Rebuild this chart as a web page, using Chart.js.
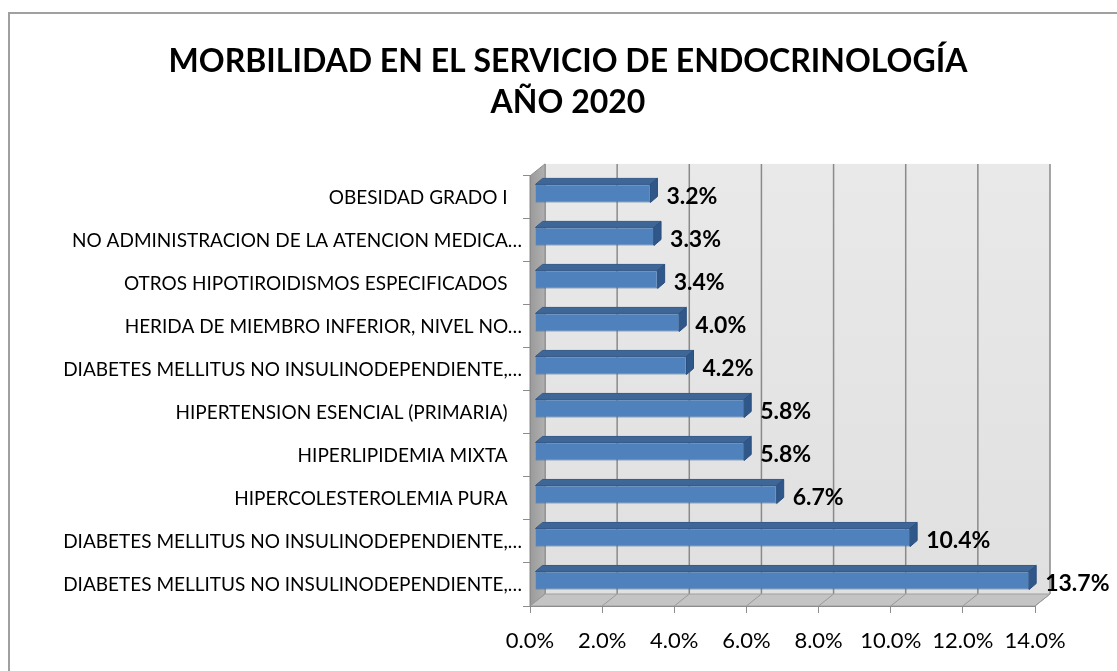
<!DOCTYPE html>
<html>
<head>
<meta charset="utf-8">
<script src="https://cdn.jsdelivr.net/npm/chart.js@4.4.1/dist/chart.umd.min.js"></script>
<style>
  html, body { margin: 0; padding: 0; background: #fff; }
  #contenedor { width: 1117px; height: 671px; }
</style>
</head>
<body>
<div id="contenedor"><canvas id="morbilidadChart" width="1117" height="671"></canvas></div>
<script>
const titulo = ['MORBILIDAD EN EL SERVICIO DE ENDOCRINOLOGÍA', 'AÑO 2020'];

const diagnosticos = [
  'OBESIDAD GRADO I',
  'NO ADMINISTRACION DE LA ATENCION MEDICA…',
  'OTROS HIPOTIROIDISMOS ESPECIFICADOS',
  'HERIDA DE MIEMBRO INFERIOR, NIVEL NO…',
  'DIABETES MELLITUS NO INSULINODEPENDIENTE,…',
  'HIPERTENSION ESENCIAL (PRIMARIA)',
  'HIPERLIPIDEMIA MIXTA',
  'HIPERCOLESTEROLEMIA PURA',
  'DIABETES MELLITUS NO INSULINODEPENDIENTE,…',
  'DIABETES MELLITUS NO INSULINODEPENDIENTE,…'
];

const porcentajes = [3.2, 3.3, 3.4, 4.0, 4.2, 5.8, 5.8, 6.7, 10.4, 13.7];

const marcasX = [0, 2, 4, 6, 8, 10, 12, 14];

// profundidad del grafico 3D (pared del fondo y barras)
const fondo = { dx: 15, dy: -12 };
const barra = { dx: 5, dy: -4, px: 7, py: -6 };

function poligono(ctx, puntos, relleno, borde) {
  ctx.beginPath();
  puntos.forEach(([x, y], i) => i ? ctx.lineTo(x, y) : ctx.moveTo(x, y));
  ctx.closePath();
  ctx.fillStyle = relleno;
  ctx.fill();
  if (borde) {
    ctx.strokeStyle = borde;
    ctx.lineWidth = 1;
    ctx.stroke();
  }
}

const efecto3D = {
  id: 'efecto3D',
  afterLayout(chart) {
    // el titulo va centrado sobre todo el marco, no solo sobre el area del grafico
    chart.titleBlock.left = 19;
    chart.titleBlock.right = chart.width;
  },
  beforeDraw(chart) {
    const { ctx, chartArea: a, scales: { x } } = chart;
    ctx.save();
    // marco exterior
    ctx.strokeStyle = '#a0a0a0';
    ctx.lineWidth = 2;
    ctx.strokeRect(9, 13, 1200, 800);

    // pared del fondo
    const g = ctx.createLinearGradient(0, a.top + fondo.dy, 0, a.bottom + fondo.dy);
    g.addColorStop(0, '#e9e9e9');
    g.addColorStop(1, '#e0e0e0');
    ctx.fillStyle = g;
    ctx.fillRect(a.left + fondo.dx, a.top + fondo.dy, a.right - a.left, a.bottom - a.top);

    // lineas de division sobre la pared
    ctx.strokeStyle = '#8a8a8a';
    ctx.lineWidth = 1.5;
    marcasX.forEach(v => {
      const px = x.getPixelForValue(v) + fondo.dx;
      ctx.beginPath();
      ctx.moveTo(px, a.top + fondo.dy);
      ctx.lineTo(px, a.bottom + fondo.dy);
      ctx.stroke();
    });

    // pared lateral
    const gl = ctx.createLinearGradient(a.left, 0, a.left + fondo.dx, 0);
    gl.addColorStop(0, '#9a9a9a');
    gl.addColorStop(1, '#b0b0b0');
    poligono(ctx, [
      [a.left, a.top], [a.left + fondo.dx, a.top + fondo.dy],
      [a.left + fondo.dx, a.bottom + fondo.dy], [a.left, a.bottom]
    ], gl, '#8c8c8c');

    // piso
    poligono(ctx, [
      [a.left, a.bottom], [a.left + fondo.dx, a.bottom + fondo.dy],
      [a.right + fondo.dx, a.bottom + fondo.dy], [a.right, a.bottom]
    ], '#c4c4c4', '#a0a0a0');
    ctx.strokeStyle = '#9a9a9a';
    ctx.lineWidth = 1;
    marcasX.forEach(v => {
      const px = x.getPixelForValue(v);
      ctx.beginPath();
      ctx.moveTo(px, a.bottom);
      ctx.lineTo(px + fondo.dx, a.bottom + fondo.dy);
      ctx.stroke();
    });
    ctx.restore();
  },
  beforeDatasetsDraw(chart) {
    chart.ctx.save();
    chart.ctx.translate(barra.dx, barra.dy);
  },
  afterDatasetsDraw(chart) {
    const ctx = chart.ctx;
    const barras = chart.getDatasetMeta(0).data;
    barras.forEach(el => {
      const { x, y, base, height } = el.getProps(['x', 'y', 'base', 'height'], true);
      const arriba = y - height / 2, abajo = y + height / 2;
      // cara superior
      poligono(ctx, [
        [base, arriba], [base + barra.px, arriba + barra.py],
        [x + barra.px, arriba + barra.py], [x, arriba]
      ], '#3e6797', '#34598a');
      // cara lateral derecha
      poligono(ctx, [
        [x, arriba], [x + barra.px, arriba + barra.py],
        [x + barra.px, abajo + barra.py], [x, abajo]
      ], '#30578a', '#2a4e7d');
    });
    ctx.restore();

    // etiquetas de valor
    ctx.save();
    ctx.font = 'bold 23px Lato';
    ctx.fillStyle = '#000';
    ctx.textAlign = 'left';
    ctx.textBaseline = 'middle';
    barras.forEach((el, i) => {
      const { x, y } = el.getProps(['x', 'y'], true);
      ctx.fillText(porcentajes[i].toFixed(1) + '%', x + 21, y - 1);
    });
    ctx.restore();
  }
};

Chart.defaults.font.family = 'Lato';
Chart.defaults.color = '#000';

const ctx = document.getElementById('morbilidadChart').getContext('2d');
const grafico = new Chart(ctx, {
  type: 'bar',
  data: {
    labels: diagnosticos,
    datasets: [{
      label: 'Porcentaje',
      data: porcentajes,
      backgroundColor: '#4f81bd',
      borderColor: '#3a669c',
      borderWidth: 1,
      barPercentage: 0.42,
      categoryPercentage: 1
    }]
  },
  options: {
    indexAxis: 'y',
    responsive: false,
    animation: false,
    layout: { padding: { left: 0, right: 82, top: 0, bottom: 0 } },
    scales: {
      x: {
        min: 0,
        max: 14,
        afterBuildTicks: s => { s.ticks = marcasX.map(v => ({ value: v })); },
        afterFit: s => { s.height = 65; },
        grid: { drawOnChartArea: false, drawTicks: true, tickLength: 7, color: '#8c8c8c' },
        border: { color: '#8c8c8c' },
        ticks: {
          padding: 15,
          font: { size: 22 },
          maxRotation: 0,
          callback: v => v.toFixed(1) + '%'
        }
      },
      y: {
        afterFit: s => { s.width = 530; },
        grid: { drawOnChartArea: false, drawTicks: true, tickLength: 7, color: '#8c8c8c' },
        border: { color: '#8c8c8c' },
        ticks: {
          padding: 1,
          font: { size: 19 },
          callback: function (v, i) {
            const t = diagnosticos[i];
            return t.endsWith('…') ? t : t + '\u2002 ';
          }
        }
      }
    },
    plugins: {
      legend: { display: false },
      tooltip: { enabled: false },
      title: {
        display: true,
        text: titulo,
        font: { size: 32, weight: 'bold', lineHeight: 1.28 },
        color: '#000',
        padding: { top: 41.5, bottom: 52.5 }
      }
    }
  },
  plugins: [efecto3D]
});
</script>
</body>
</html>
